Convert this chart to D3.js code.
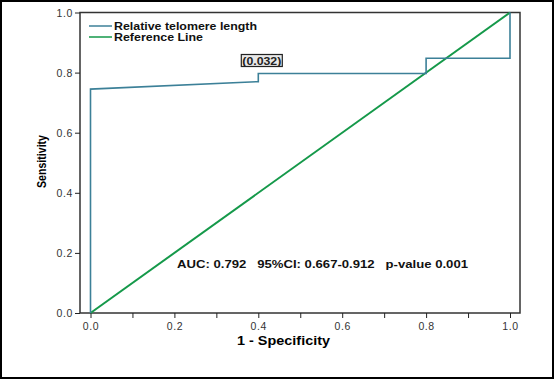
<!DOCTYPE html>
<html><head><meta charset="utf-8">
<script src="https://cdn.jsdelivr.net/npm/d3@7"></script>
<style>body{margin:0;background:#fff}svg{display:block}text{font-family:"Liberation Sans",Arial,sans-serif}</style>
</head><body>
<script>
const rocFpr  = [0, 0,     0.4,  0.4,   0.8,   0.8,  1.0, 1.0];
const rocTpr  = [0, 0.745, 0.77, 0.797, 0.797, 0.848, 0.848, 1.0];
const refLine = [[0,0],[1,1]];
const ticks = [0, 0.2, 0.4, 0.6, 0.8, 1.0];
const minorTicks = [0.1, 0.3, 0.5, 0.7, 0.9];
const legendLabels = ["Relative telomere length", "Reference Line"];
const annotation = "(0.032)";
const annotationPos = [0.4, 0.797];
const statsText = "AUC: 0.792   95%CI: 0.667-0.912   p-value 0.001";

const W = 554, H = 379;
const svg = d3.select("body").append("svg").attr("width", W).attr("height", H);
svg.append("rect").attr("x",1).attr("y",1).attr("width",W-2).attr("height",H-2)
  .attr("fill","#fff").attr("stroke","#000").attr("stroke-width",2);

const x = d3.scaleLinear().domain([0,1]).range([90.5, 510]);
const y = d3.scaleLinear().domain([0,1]).range([313, 12.5]);
const frame = {l:80, r:520, t:12.5, b:313};

// frame
svg.append("rect").attr("x",frame.l).attr("y",frame.t).attr("width",frame.r-frame.l).attr("height",frame.b-frame.t)
  .attr("fill","none").attr("stroke","#333").attr("stroke-width",1.5);

// y axis
const ya = svg.append("g").attr("transform",`translate(${frame.l},0)`)
  .call(d3.axisLeft(y).tickValues(ticks).tickFormat(d3.format(".1f")).tickSize(5).tickPadding(2));
ya.select(".domain").remove();
ya.selectAll("line").attr("stroke","#222");
ya.selectAll("text").attr("font-size",10.5).attr("fill","#333").attr("dy","0.35em").attr("letter-spacing",0.6);

// x axis
const xa = svg.append("g").attr("transform",`translate(0,${frame.b})`)
  .call(d3.axisBottom(x).tickValues(ticks.concat(minorTicks)).tickFormat(d => ticks.includes(d) ? d3.format(".1f")(d) : "").tickSize(5).tickPadding(5));
xa.select(".domain").remove();
xa.selectAll("line").attr("stroke","#222");
xa.selectAll("text").attr("font-size",10.5).attr("fill","#333").attr("letter-spacing",0.6);

// axis titles
svg.append("text").attr("x",237).attr("y",345)
  .attr("font-size",13).attr("font-weight","bold").attr("textLength",93).attr("lengthAdjust","spacingAndGlyphs").text("1 - Specificity");
svg.append("text").attr("transform","translate(46,188) rotate(-90)")
  .attr("font-size",12).attr("font-weight","bold").attr("textLength",53).attr("lengthAdjust","spacingAndGlyphs").text("Sensitivity");

// reference line
svg.append("path").datum(refLine)
  .attr("d", d3.line().x(d=>x(d[0])).y(d=>y(d[1])))
  .attr("fill","none").attr("stroke","#15994a").attr("stroke-width",2);

// ROC
const rocData = rocFpr.map((f,i)=>[f, rocTpr[i]]);
svg.append("path").datum(rocData)
  .attr("d", d3.line().x(d=>x(d[0])).y(d=>y(d[1])))
  .attr("fill","none").attr("stroke","#3c8098").attr("stroke-width",1.6);

// annotation
const ax = x(annotationPos[0]) - 16, ay = y(annotationPos[1]) - 9;
const at = svg.append("text").attr("x",ax).attr("y",ay)
  .attr("font-size",10.5).attr("font-weight","bold").attr("fill","#222")
  .attr("textLength",39).attr("lengthAdjust","spacingAndGlyphs").text(annotation);
const bb = at.node().getBBox();
svg.append("rect").attr("x",bb.x-1).attr("y",bb.y).attr("width",bb.width+2).attr("height",bb.height)
  .attr("fill","#e8e8e8").attr("stroke","#222").attr("stroke-width",1.2);
at.raise();

// legend
const legColors = ["#3c8098","#15994a"];
const legLens = [143, 89];
legendLabels.forEach((l,i)=>{
  const ly = 26 + i*11;
  svg.append("line").attr("x1",89).attr("x2",112).attr("y1",ly).attr("y2",ly)
    .attr("stroke",legColors[i]).attr("stroke-width",1.5);
  svg.append("text").attr("x",114).attr("y",ly).attr("dy","0.35em")
    .attr("font-size",11.5).attr("font-weight","bold").attr("fill","#111")
    .attr("textLength",legLens[i]).attr("lengthAdjust","spacingAndGlyphs").text(l);
});

// stats
svg.append("text").attr("x",177).attr("y",264).attr("dy","0.35em")
  .style("white-space","pre")
  .attr("font-size",11.5).attr("font-weight","bold").attr("fill","#111")
  .attr("textLength",291).attr("lengthAdjust","spacingAndGlyphs").text(statsText);
</script>
</body></html>
